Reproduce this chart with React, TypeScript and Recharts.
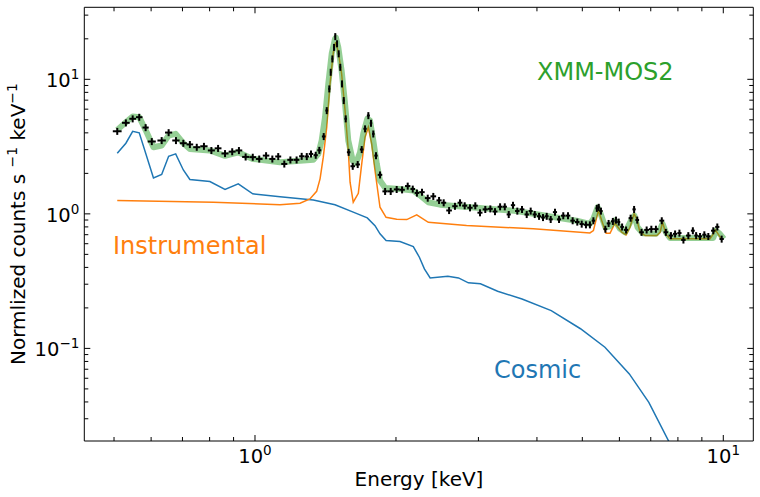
import { ComposedChart, Line, Scatter, ErrorBar, XAxis, YAxis } from "recharts";

// observed spectrum (bin centre energy in keV, normalized counts)
const DATA_E = [
  0.508, 0.53, 0.548, 0.566, 0.584, 0.602, 0.632, 0.654, 0.678, 0.703, 0.726, 0.751, 0.778,
  0.807, 0.834, 0.863, 0.894, 0.924, 0.955, 0.989, 1.021, 1.056, 1.089, 1.121, 1.155, 1.19,
  1.227, 1.258, 1.29, 1.317, 1.348, 1.372, 1.402, 1.423, 1.441, 1.451, 1.463, 1.475, 1.484,
  1.497, 1.509, 1.521, 1.534, 1.547, 1.562, 1.585, 1.617, 1.657, 1.69, 1.718, 1.746, 1.769,
  1.789, 1.813, 1.849, 1.896, 1.949, 2.007, 2.061, 2.119, 2.172, 2.217, 2.273, 2.338, 2.403,
  2.472, 2.529, 2.597, 2.673, 2.74, 2.804, 2.878, 2.954, 3.023, 3.103, 3.181, 3.255, 3.337,
  3.415, 3.482, 3.556, 3.632, 3.717, 3.804, 3.879, 3.957, 4.042, 4.121, 4.197, 4.28, 4.371,
  4.459, 4.553, 4.66, 4.768, 4.878, 4.985, 5.09, 5.19, 5.28, 5.37, 5.42, 5.48, 5.6, 5.69,
  5.81, 5.9, 5.98, 6.08, 6.2, 6.34, 6.45, 6.55, 6.69, 6.86, 7.02, 7.18, 7.39, 7.54, 7.73,
  7.89, 8.06, 8.22, 8.42, 8.61, 8.75, 8.92, 9.11, 9.29, 9.52, 9.71, 9.92,
];
const DATA_V = [
  4.11, 4.75, 5.09, 5.23, 4.38, 3.45, 3.51, 4.02, 3.51, 3.35, 3.28, 3.13, 3.18,
  2.96, 3.07, 2.81, 2.9, 2.96, 2.65, 2.64, 2.56, 2.71, 2.56, 2.67, 2.35, 2.52,
  2.52, 2.68, 2.67, 2.79, 2.73, 2.97, 3.76, 5.86, 8.5, 11.3, 14.2, 17.3, 20.8,
  18.4, 15.5, 12.3, 9.26, 6.96, 5.09, 2.87, 2.26, 2.33, 3.01, 4.29, 5.38, 4.72,
  3.93, 2.71, 1.95, 1.47, 1.47, 1.52, 1.51, 1.61, 1.53, 1.43, 1.45, 1.31, 1.35,
  1.26, 1.21, 1.06, 1.14, 1.21, 1.15, 1.11, 1.15, 1.02, 1.08, 1.09, 1.04, 1.13,
  1.13, 0.99, 1.16, 1.05, 1.08, 0.99, 1.05, 0.99, 0.96, 0.94, 0.96, 0.91, 1.03,
  0.91, 0.97, 0.97, 0.89, 0.87, 0.84, 0.83, 0.83, 0.89, 1.1, 1.12, 1.05, 0.77, 0.85,
  0.88, 0.9, 0.87, 0.8, 0.76, 0.93, 1.08, 0.9, 0.73, 0.76, 0.77, 0.77, 0.89, 0.73, 0.69,
  0.71, 0.72, 0.64, 0.69, 0.75, 0.69, 0.68, 0.7, 0.68, 0.75, 0.8, 0.65,
];
const REL_ERR = 0.06;

// total model
const TOTAL_E = [
  0.508, 0.53, 0.548, 0.566, 0.587, 0.607, 0.632, 0.654, 0.677, 0.703, 0.726, 0.801, 0.863,
  0.921, 0.989, 1.131, 1.332, 1.365, 1.388, 1.411, 1.434, 1.458, 1.482, 1.489, 1.506, 1.531,
  1.557, 1.582, 1.617, 1.643, 1.676, 1.703, 1.737, 1.76, 1.789, 1.82, 1.849, 1.896, 2.04,
  2.178, 2.252, 2.345, 2.483, 3.62, 4.86, 5.19, 5.28, 5.39, 5.47, 5.6, 5.71, 5.87, 6.02,
  6.17, 6.38, 6.46, 6.56, 6.73, 7.18, 7.33, 7.42, 7.54, 7.69, 9.52, 9.64, 9.83, 10.03,
];
const TOTAL_V = [
  4.21, 4.8, 5.29, 5.23, 4.04, 3.13, 3.22, 3.82, 3.93, 3.35, 3.04, 2.96, 2.7,
  2.87, 2.56, 2.42, 2.52, 2.79, 3.51, 5.23, 9.26, 15.5, 20.0, 20.4, 17.3, 11.6,
  6.58, 3.51, 2.49, 2.38, 2.87, 3.93, 5.09, 4.94, 3.51, 2.35, 1.77, 1.56, 1.53,
  1.49, 1.37, 1.22, 1.17, 1.05, 0.89, 0.843, 0.918, 1.12, 1.0, 0.795, 0.804, 0.892, 0.774,
  0.73, 0.918, 0.97, 0.795, 0.717, 0.71, 0.774, 0.843, 0.73, 0.663, 0.663, 0.751, 0.71, 0.652,
];

// cosmic component
const COSMIC_E = [
  0.508, 0.53, 0.548, 0.566, 0.607, 0.632, 0.654, 0.677, 0.703, 0.726, 0.801, 0.863, 0.921,
  0.989, 1.131, 1.332, 1.482, 1.621, 1.737, 1.804, 1.849, 1.905, 2.04, 2.178, 2.244, 2.3,
  2.366, 2.581, 2.72, 2.855, 3.03, 3.297, 3.717, 4.291, 4.955, 5.588, 6.3, 6.934, 7.67,
  8.5, 9.5, 10.0,
];
const COSMIC_V = [
  2.82, 3.35, 4.11, 4.0, 1.85, 1.96, 2.68, 2.79, 2.12, 1.8, 1.74, 1.52, 1.67,
  1.41, 1.34, 1.27, 1.17, 1.03, 0.934, 0.818, 0.71, 0.633, 0.622, 0.571, 0.476, 0.39,
  0.334, 0.344, 0.334, 0.307, 0.302, 0.266, 0.233, 0.191, 0.14, 0.102, 0.0646, 0.0397, 0.02,
  0.0095, 0.004, 0.0025,
];

// instrumental component
const INSTR_E = [
  0.508, 0.815, 1.131, 1.248, 1.31, 1.354, 1.377, 1.399, 1.423, 1.446, 1.47, 1.487, 1.506,
  1.531, 1.557, 1.582, 1.596, 1.621, 1.662, 1.69, 1.718, 1.746, 1.775, 1.804, 1.849, 1.905,
  2.007, 2.109, 2.215, 2.345, 2.83, 3.93, 5.19, 5.28, 5.39, 5.41, 5.5, 5.62, 5.73, 5.87,
  6.07, 6.2, 6.32, 6.45, 6.53, 6.64, 6.81, 7.21, 7.33, 7.42, 7.54, 7.69, 9.37, 9.52, 9.62, 9.87,
];
const INSTR_V = [
  1.256, 1.22, 1.17, 1.2, 1.29, 1.47, 1.82, 2.64, 4.4, 9.26, 15.9, 18.9, 16.0,
  11.0, 5.86, 2.96, 1.72, 1.22, 1.42, 2.35, 3.71, 4.4, 3.31, 2.1, 1.12, 0.943,
  0.912, 0.907, 0.983, 0.866, 0.818, 0.774, 0.722, 0.751, 1.0, 1.07, 0.892, 0.717, 0.717, 0.851,
  0.73, 0.698, 0.795, 1.0, 0.918, 0.73, 0.69, 0.69, 0.73, 0.866, 0.71, 0.652, 0.652, 0.71, 0.76, 0.663,
];

const X_TICKS = [0.5, 0.6, 0.7, 0.8, 0.9, 1, 2, 3, 4, 5, 6, 7, 8, 9, 10];
const Y_TICKS = [
  0.03, 0.04, 0.05, 0.06, 0.07, 0.08, 0.09, 0.1, 0.2, 0.3, 0.4, 0.5, 0.6, 0.7, 0.8, 0.9,
  1, 2, 3, 4, 5, 6, 7, 8, 9, 10, 20, 30,
];

const FONT = "DejaVu Sans";
const MAJOR = 6;
const MINOR = 4;

const zip = (es: number[], vs: number[]) => es.map((e, i) => ({ e, v: vs[i] }));

// x error = half the bin width, taken from the neighbouring bin centres
const points = DATA_E.map((e, i) => {
  const prev = i > 0 ? DATA_E[i - 1] : null;
  const next = i < DATA_E.length - 1 ? DATA_E[i + 1] : null;
  const half = ((next ?? e + (e - (prev as number))) - (prev ?? e - ((next as number) - e))) / 4;
  return { e, v: DATA_V[i], ex: half, ey: DATA_V[i] * REL_ERR };
});

function exponent(v: number): string | null {
  const l = Math.log10(v);
  const r = Math.round(l);
  if (Math.abs(l - r) > 1e-9) return null;
  return r < 0 ? "\u2212" + Math.abs(r) : String(r);
}

function makeTick(side: "bottom" | "top" | "left" | "right") {
  return (props: any) => {
    const { x, y, payload } = props;
    const exp = exponent(payload.value);
    const len = exp !== null ? MAJOR : MINOR;
    let line;
    if (side === "bottom") line = <line x1={x} x2={x} y1={y} y2={y - len} stroke="#000" />;
    else if (side === "top") line = <line x1={x} x2={x} y1={y} y2={y + len} stroke="#000" />;
    else if (side === "left") line = <line x1={x} x2={x + len} y1={y} y2={y} stroke="#000" />;
    else line = <line x1={x} x2={x - len} y1={y} y2={y} stroke="#000" />;
    let label = null;
    if (exp !== null && side === "bottom") {
      label = (
        <text x={x} y={y + 21.7} textAnchor="middle" fontFamily={FONT} fontSize={19.5} fill="#000">
          10<tspan dy={-8} fontSize={13.5}>{exp}</tspan>
        </text>
      );
    } else if (exp !== null && side === "left") {
      label = (
        <text x={x - 5} y={y + 8} textAnchor="end" fontFamily={FONT} fontSize={19.5} fill="#000">
          10<tspan dy={-8} fontSize={13.5}>{exp}</tspan>
        </text>
      );
    }
    return (
      <g>
        {line}
        {label}
      </g>
    );
  };
}

const axisLine = { stroke: "#000", strokeWidth: 1 };
const X_DOMAIN = [0.432, 11.59];
const Y_DOMAIN = [0.0205, 34.3];

export default function App() {
  return (
    <div style={{ position: "absolute", left: 0, top: 0, background: "#fff" }}>
      <ComposedChart
        width={760}
        height={497}
        margin={{ top: 6.3, right: 5.7, bottom: 55, left: 83.3 }}
      >
        <XAxis
          xAxisId={0}
          dataKey="e"
          type="number"
          scale="log"
          domain={X_DOMAIN}
          allowDataOverflow
          ticks={X_TICKS}
          interval={0}
          height={1}
          tickSize={0}
          tickMargin={0}
          tickLine={false}
          axisLine={axisLine}
          tick={makeTick("bottom")}
        />
        <XAxis
          xAxisId="top"
          orientation="top"
          dataKey="e"
          type="number"
          scale="log"
          domain={X_DOMAIN}
          allowDataOverflow
          ticks={X_TICKS}
          interval={0}
          height={1}
          tickSize={0}
          tickMargin={0}
          tickLine={false}
          axisLine={axisLine}
          tick={makeTick("top")}
        />
        <YAxis
          yAxisId={0}
          dataKey="v"
          type="number"
          scale="log"
          domain={Y_DOMAIN}
          allowDataOverflow
          ticks={Y_TICKS}
          interval={0}
          width={1}
          tickSize={0}
          tickMargin={0}
          tickLine={false}
          axisLine={axisLine}
          tick={makeTick("left")}
        />
        <YAxis
          yAxisId="right"
          orientation="right"
          dataKey="v"
          type="number"
          scale="log"
          domain={Y_DOMAIN}
          allowDataOverflow
          ticks={Y_TICKS}
          interval={0}
          width={1}
          tickSize={0}
          tickMargin={0}
          tickLine={false}
          axisLine={axisLine}
          tick={makeTick("right")}
        />
        <Line
          data={zip(COSMIC_E, COSMIC_V)}
          dataKey="v"
          type="linear"
          stroke="#1f77b4"
          strokeWidth={1.5}
          dot={false}
          activeDot={false}
          isAnimationActive={false}
        />
        <Line
          data={zip(INSTR_E, INSTR_V)}
          dataKey="v"
          type="linear"
          stroke="#ff7f0e"
          strokeWidth={1.5}
          dot={false}
          activeDot={false}
          isAnimationActive={false}
        />
        <Line
          data={zip(TOTAL_E, TOTAL_V)}
          dataKey="v"
          type="linear"
          stroke="#2ca02c"
          strokeOpacity={0.5}
          strokeWidth={6}
          strokeLinejoin="round"
          dot={false}
          activeDot={false}
          isAnimationActive={false}
        />
        <Scatter data={points} dataKey="v" shape={() => <g />} isAnimationActive={false}>
          <ErrorBar dataKey="ex" direction="x" width={0} stroke="#000" strokeWidth={2} isAnimationActive={false} />
          <ErrorBar dataKey="ey" direction="y" width={0} stroke="#000" strokeWidth={2} isAnimationActive={false} />
        </Scatter>
        <text x={537} y={80} fontFamily={FONT} fontSize={24} fill="#2ca02c">
          XMM-MOS2
        </text>
        <text x={113} y={254} fontFamily={FONT} fontSize={24} fill="#ff7f0e">
          Instrumental
        </text>
        <text x={494} y={378} fontFamily={FONT} fontSize={24} fill="#1f77b4">
          Cosmic
        </text>
        <text x={419} y={486} textAnchor="middle" fontFamily={FONT} fontSize={20} fill="#000">
          Energy [keV]
        </text>
        <text
          x={25}
          y={224}
          transform="rotate(-90, 25, 224)"
          textAnchor="middle"
          fontFamily={FONT}
          fontSize={20}
          fill="#000"
        >
          Normlized counts s <tspan dy={-8} fontSize={14}>{"\u22121"}</tspan>
          <tspan dy={8}>{" keV"}</tspan>
          <tspan dy={-8} fontSize={14}>{"\u22121"}</tspan>
        </text>
      </ComposedChart>
    </div>
  );
}
